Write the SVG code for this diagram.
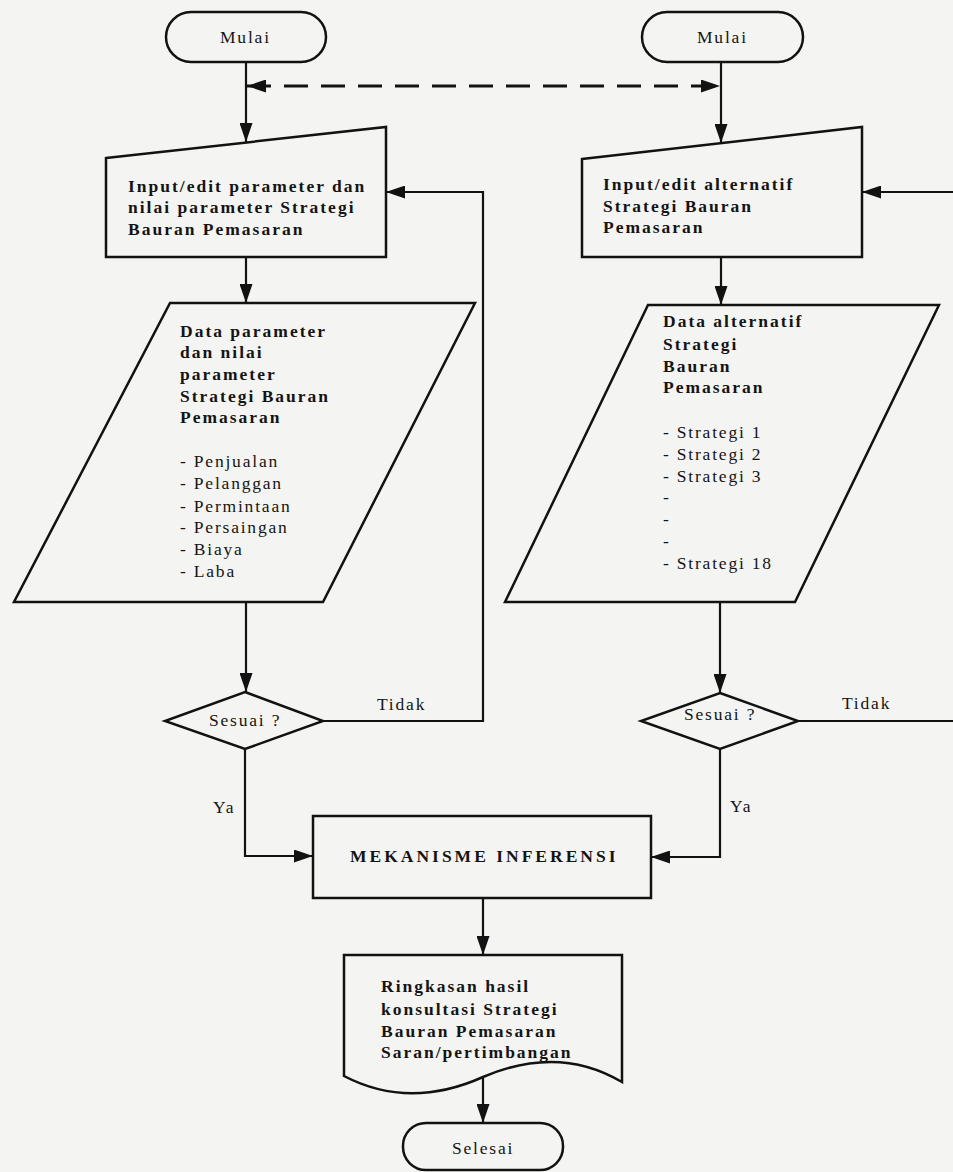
<svg xmlns="http://www.w3.org/2000/svg" width="953" height="1172" viewBox="0 0 953 1172">
<defs>
<style>
.s{fill:none;stroke:#121212;stroke-width:2.5;stroke-linejoin:miter}
.c{fill:none;stroke:#121212;stroke-width:2.2}
.d{fill:none;stroke:#121212;stroke-width:3;stroke-dasharray:24 13}
.t{font-family:"Liberation Serif","Times New Roman",serif;font-size:17.5px;fill:#141414;letter-spacing:1.8px}
.b{font-weight:bold;letter-spacing:2px}
</style>
<marker id="ah" markerUnits="userSpaceOnUse" markerWidth="19" markerHeight="13" refX="19" refY="6.5" orient="auto-start-reverse"><path d="M0,0 L19,6.5 L0,13 Z" fill="#121212"/></marker>
</defs>
<rect x="0" y="0" width="953" height="1172" fill="#f4f4f2"/>

<g id="connectors">
<path class="c" d="M246,62 V142" marker-end="url(#ah)"/>
<path class="d" d="M247,86 H720" marker-start="url(#ah)" marker-end="url(#ah)"/>
<path class="c" d="M246,257 V303" marker-end="url(#ah)"/>
<path class="c" d="M246,602 V692" marker-end="url(#ah)"/>
<path class="c" d="M323,721 H483 V192 H386" marker-end="url(#ah)"/>
<path class="c" d="M245,749 V856 H313" marker-end="url(#ah)"/>
<path class="c" d="M721,62 V143" marker-end="url(#ah)"/>
<path class="c" d="M721,257 V305" marker-end="url(#ah)"/>
<path class="c" d="M720,602 V693" marker-end="url(#ah)"/>
<path class="c" d="M798,721 H960"/>
<path class="c" d="M960,192 H862" marker-end="url(#ah)"/>
<path class="c" d="M720,749 V857 H651" marker-end="url(#ah)"/>
<path class="c" d="M483,898 V955" marker-end="url(#ah)"/>
<path class="c" d="M483,1078 V1123" marker-end="url(#ah)"/>
<text class="t" x="377" y="710">Tidak</text>
<text class="t" x="213" y="813">Ya</text>
<text class="t" x="842" y="709">Tidak</text>
<text class="t" x="730" y="812">Ya</text>
</g>

<g id="start-left">
<rect class="s" x="166" y="12" width="160" height="50" rx="25"/>
<text class="t" x="220" y="43">Mulai</text>
</g>

<g id="start-right">
<rect class="s" x="642" y="12" width="161" height="50" rx="25"/>
<text class="t" x="697" y="43">Mulai</text>
</g>

<g id="input-parameter">
<path class="s" d="M106,158 L386,127 L386,257 L106,257 Z"/>
<text class="t b" x="128" y="192">Input/edit parameter dan</text>
<text class="t b" x="128" y="213">nilai parameter Strategi</text>
<text class="t b" x="128" y="235">Bauran Pemasaran</text>
</g>

<g id="input-alternatif">
<path class="s" d="M582,159 L862,127 L862,257 L582,257 Z"/>
<text class="t b" x="603" y="190">Input/edit alternatif</text>
<text class="t b" x="603" y="212">Strategi Bauran</text>
<text class="t b" x="603" y="233">Pemasaran</text>
</g>

<g id="data-parameter">
<path class="s" d="M170,303 L475,303 L323,602 L14,602 Z"/>
<text class="t b" x="180" y="337">Data parameter</text>
<text class="t b" x="180" y="358">dan nilai</text>
<text class="t b" x="180" y="380">parameter</text>
<text class="t b" x="180" y="402">Strategi Bauran</text>
<text class="t b" x="180" y="423">Pemasaran</text>
<text class="t" x="180" y="467">- Penjualan</text>
<text class="t" x="180" y="489">- Pelanggan</text>
<text class="t" x="180" y="512">- Permintaan</text>
<text class="t" x="180" y="533">- Persaingan</text>
<text class="t" x="180" y="555">- Biaya</text>
<text class="t" x="180" y="577">- Laba</text>
</g>

<g id="data-alternatif">
<path class="s" d="M648,305 L939,305 L795,602 L505,602 Z"/>
<text class="t b" x="663" y="327">Data alternatif</text>
<text class="t b" x="663" y="350">Strategi</text>
<text class="t b" x="663" y="372">Bauran</text>
<text class="t b" x="663" y="393">Pemasaran</text>
<text class="t" x="663" y="438">- Strategi 1</text>
<text class="t" x="663" y="460">- Strategi 2</text>
<text class="t" x="663" y="482">- Strategi 3</text>
<text class="t" x="663" y="503">-</text>
<text class="t" x="663" y="525">-</text>
<text class="t" x="663" y="547">-</text>
<text class="t" x="663" y="569">- Strategi 18</text>
</g>

<g id="decision-left">
<path class="s" d="M245,692 L323,721 L245,749 L165,721 Z"/>
<text class="t" x="209" y="726">Sesuai ?</text>
</g>

<g id="decision-right">
<path class="s" d="M720,693 L798,721 L720,749 L641,721 Z"/>
<text class="t" x="684" y="720">Sesuai ?</text>
</g>

<g id="inferensi">
<rect class="s" x="313" y="816" width="338" height="82"/>
<text class="t b" x="350" y="862" style="letter-spacing:3px">MEKANISME INFERENSI</text>
</g>

<g id="ringkasan">
<path class="s" d="M344,955 H622 V1082 C578,1056 532,1056 483,1077 C436,1098 390,1100 344,1076 Z"/>
<text class="t b" x="381" y="992">Ringkasan hasil</text>
<text class="t b" x="381" y="1015">konsultasi Strategi</text>
<text class="t b" x="381" y="1037">Bauran Pemasaran</text>
<text class="t b" x="381" y="1058">Saran/pertimbangan</text>
</g>

<g id="selesai">
<rect class="s" x="403" y="1123" width="160" height="47" rx="23"/>
<text class="t" x="452" y="1154">Selesai</text>
</g>
</svg>
